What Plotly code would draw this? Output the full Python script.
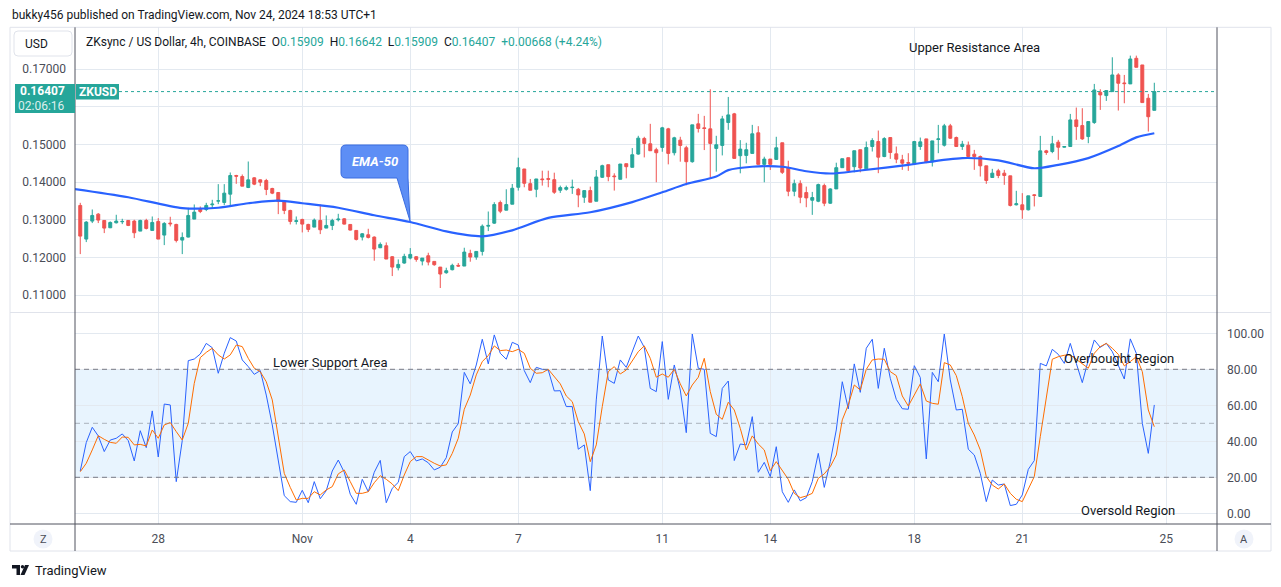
import pandas as pd
import plotly.graph_objects as go

W, H = 1281, 587

# ---------------- data ----------------
START = "2024-10-25 20:00"   # first 4h candle

OPEN = [0.13381, 0.12487, 0.12965, 0.13150, 0.12982, 0.12788, 0.12920, 0.12947, 0.12982, 0.12965,
        0.12699, 0.12982, 0.12717, 0.12956, 0.12593, 0.12912, 0.12876, 0.12460, 0.12540, 0.13018,
        0.13274, 0.13274, 0.13398, 0.13496, 0.13460, 0.13681, 0.14177, 0.14150, 0.13858, 0.14115,
        0.14062, 0.14044, 0.13832, 0.13726, 0.13487, 0.13248, 0.12956, 0.13009, 0.12876, 0.12805,
        0.12982, 0.12779, 0.12850, 0.13000, 0.13027, 0.12876, 0.12717, 0.12540, 0.12602, 0.12540,
        0.12257, 0.12310, 0.12018, 0.11726, 0.11850, 0.11982, 0.12018, 0.11903, 0.12044, 0.11894,
        0.11743, 0.11593, 0.11673, 0.11788, 0.11770, 0.12106, 0.12009, 0.12160, 0.12830, 0.12911,
        0.13458, 0.13255, 0.13414, 0.13864, 0.14350, 0.13961, 0.13811, 0.14085, 0.14094, 0.14067,
        0.13785, 0.13811, 0.13855, 0.13811, 0.13599, 0.13776, 0.13493, 0.14129, 0.14464, 0.14164,
        0.14076, 0.14491, 0.14394, 0.14747, 0.15162, 0.15020, 0.14862, 0.14923, 0.15417, 0.14782,
        0.15117, 0.14914, 0.14544, 0.15550, 0.15444, 0.15417, 0.14897, 0.14976, 0.15585, 0.15815,
        0.14703, 0.14711, 0.14764, 0.15312, 0.14473, 0.14614, 0.14605, 0.15047, 0.14376, 0.13758,
        0.13961, 0.13723, 0.13520, 0.13493, 0.13908, 0.13440, 0.13820, 0.14385, 0.14650, 0.14411,
        0.14862, 0.14354, 0.14947, 0.15080, 0.14681, 0.15186, 0.14752, 0.14593, 0.14522, 0.14487,
        0.14947, 0.15150, 0.14540, 0.15133, 0.14982, 0.15496, 0.15186, 0.14947, 0.14982, 0.14743,
        0.14681, 0.14434, 0.14124, 0.14301, 0.14239, 0.14168, 0.13398, 0.13398, 0.13265, 0.13664,
        0.13619, 0.14832, 0.14814, 0.15062, 0.14929, 0.14947, 0.15655, 0.15504, 0.15212, 0.15584,
        0.16389, 0.16301, 0.16407, 0.16850, 0.16637, 0.16611, 0.17292, 0.17115, 0.16230, 0.15909]

HIGH = [0.13451, 0.12965, 0.13274, 0.13177, 0.12982, 0.12956, 0.13133, 0.13027, 0.12982, 0.13000,
        0.13000, 0.13027, 0.13088, 0.13044, 0.12938, 0.13080, 0.12894, 0.12664, 0.13319, 0.13407,
        0.13354, 0.13451, 0.13531, 0.13947, 0.13947, 0.14257, 0.14195, 0.14204, 0.14549, 0.14133,
        0.14071, 0.14088, 0.13850, 0.13726, 0.13513, 0.13265, 0.13088, 0.13027, 0.12894, 0.13035,
        0.13407, 0.13115, 0.13027, 0.13159, 0.13044, 0.12876, 0.12717, 0.12646, 0.12761, 0.12558,
        0.12398, 0.12398, 0.12035, 0.11947, 0.12097, 0.12248, 0.12035, 0.11982, 0.12124, 0.11894,
        0.11743, 0.11726, 0.11832, 0.11850, 0.12257, 0.12204, 0.12168, 0.12876, 0.13220, 0.13467,
        0.13511, 0.13811, 0.13952, 0.14650, 0.14350, 0.14085, 0.14085, 0.14305, 0.14305, 0.14252,
        0.13908, 0.13908, 0.14067, 0.13846, 0.13776, 0.13882, 0.14323, 0.14464, 0.14464, 0.14235,
        0.14482, 0.14491, 0.14906, 0.15232, 0.15206, 0.15550, 0.14915, 0.15470, 0.15444, 0.15206,
        0.15206, 0.14967, 0.15523, 0.15815, 0.15762, 0.16468, 0.15232, 0.15762, 0.16265, 0.15841,
        0.15117, 0.15047, 0.15523, 0.15488, 0.14676, 0.14614, 0.15206, 0.15047, 0.14570, 0.14067,
        0.14049, 0.13882, 0.13741, 0.13961, 0.13961, 0.13838, 0.14517, 0.14623, 0.14650, 0.14835,
        0.14862, 0.15080, 0.15168, 0.15372, 0.15195, 0.15186, 0.14947, 0.14726, 0.14770, 0.15097,
        0.15186, 0.15150, 0.15097, 0.15522, 0.15549, 0.15549, 0.15212, 0.15097, 0.15080, 0.14858,
        0.14708, 0.14434, 0.14354, 0.14354, 0.14327, 0.14168, 0.13770, 0.13708, 0.13637, 0.13681,
        0.15230, 0.14858, 0.15230, 0.15124, 0.14960, 0.15814, 0.15983, 0.15965, 0.15611, 0.16611,
        0.16469, 0.16434, 0.17319, 0.16894, 0.16850, 0.17363, 0.17363, 0.17115, 0.16345, 0.16642]

LOW = [0.12088, 0.12407, 0.12912, 0.12912, 0.12646, 0.12779, 0.12903, 0.12885, 0.12832, 0.12513,
       0.12699, 0.12743, 0.12717, 0.12487, 0.12327, 0.12823, 0.12398, 0.12088, 0.12531, 0.13018,
       0.13177, 0.13230, 0.13292, 0.13416, 0.13389, 0.13372, 0.13956, 0.13894, 0.13841, 0.13920,
       0.13894, 0.13655, 0.13681, 0.13150, 0.13150, 0.12876, 0.12876, 0.12664, 0.12673, 0.12805,
       0.12619, 0.12779, 0.12726, 0.12956, 0.12876, 0.12717, 0.12451, 0.12451, 0.12504, 0.11912,
       0.12248, 0.11956, 0.11504, 0.11655, 0.11832, 0.11947, 0.11885, 0.11788, 0.11788, 0.11779,
       0.11186, 0.11566, 0.11655, 0.11752, 0.11770, 0.11885, 0.11938, 0.12050, 0.12700, 0.12893,
       0.13176, 0.13255, 0.13414, 0.13776, 0.13864, 0.13785, 0.13599, 0.13908, 0.13864, 0.13688,
       0.13714, 0.13776, 0.13688, 0.13334, 0.13449, 0.13467, 0.13493, 0.14111, 0.14023, 0.13776,
       0.14076, 0.14102, 0.14394, 0.14729, 0.14658, 0.14835, 0.13997, 0.14808, 0.14473, 0.14711,
       0.14544, 0.13917, 0.14517, 0.15320, 0.14853, 0.14102, 0.14279, 0.14711, 0.15391, 0.14632,
       0.14235, 0.14500, 0.14764, 0.14473, 0.13997, 0.14323, 0.14605, 0.14217, 0.13626, 0.13626,
       0.13440, 0.13334, 0.13131, 0.13467, 0.13361, 0.13423, 0.13820, 0.14385, 0.14305, 0.14261,
       0.14261, 0.14354, 0.14814, 0.14239, 0.14664, 0.14619, 0.14504, 0.14327, 0.14301, 0.14487,
       0.14858, 0.14504, 0.14416, 0.14770, 0.14947, 0.15150, 0.14947, 0.14858, 0.14664, 0.14327,
       0.14150, 0.13956, 0.14124, 0.14106, 0.13929, 0.13354, 0.13381, 0.13027, 0.13248, 0.13354,
       0.13619, 0.14726, 0.14770, 0.14593, 0.14920, 0.14947, 0.15124, 0.15124, 0.15035, 0.15549,
       0.15920, 0.16159, 0.16407, 0.15903, 0.16097, 0.16611, 0.17053, 0.16115, 0.15345, 0.15909]

CLOSE = [0.12566, 0.12938, 0.13115, 0.12991, 0.12779, 0.12929, 0.12965, 0.12956, 0.12850, 0.12655,
         0.12982, 0.12770, 0.12929, 0.12487, 0.12903, 0.12894, 0.12451, 0.12531, 0.13115, 0.13204,
         0.13221, 0.13381, 0.13416, 0.13504, 0.13708, 0.14177, 0.14159, 0.13894, 0.14062, 0.13947,
         0.14000, 0.13805, 0.13708, 0.13487, 0.13248, 0.12956, 0.12973, 0.12885, 0.12743, 0.12991,
         0.12735, 0.12850, 0.12982, 0.13018, 0.12885, 0.12726, 0.12478, 0.12628, 0.12531, 0.12221,
         0.12345, 0.11956, 0.11743, 0.11814, 0.12027, 0.12080, 0.11947, 0.11982, 0.11876, 0.11805,
         0.11558, 0.11646, 0.11788, 0.11770, 0.12142, 0.12009, 0.12159, 0.12830, 0.12850, 0.13405,
         0.13229, 0.13405, 0.13838, 0.14385, 0.13970, 0.13785, 0.14085, 0.14067, 0.14076, 0.13732,
         0.13855, 0.13855, 0.13864, 0.13661, 0.13776, 0.13467, 0.14138, 0.14438, 0.14147, 0.14147,
         0.14482, 0.14411, 0.14729, 0.15170, 0.15029, 0.14835, 0.14782, 0.15444, 0.14764, 0.15179,
         0.14976, 0.14544, 0.15523, 0.15426, 0.15426, 0.15029, 0.14994, 0.15682, 0.15788, 0.14632,
         0.14879, 0.14862, 0.15285, 0.14473, 0.14614, 0.14473, 0.14914, 0.14261, 0.13758, 0.13961,
         0.13599, 0.13582, 0.13591, 0.13935, 0.13440, 0.13820, 0.14385, 0.14623, 0.14305, 0.14835,
         0.14376, 0.14920, 0.15106, 0.14664, 0.15159, 0.14788, 0.14611, 0.14504, 0.14504, 0.15080,
         0.15071, 0.14540, 0.15097, 0.15150, 0.15496, 0.15168, 0.14947, 0.15009, 0.14681, 0.14681,
         0.14434, 0.14044, 0.14239, 0.14177, 0.14177, 0.13381, 0.13425, 0.13265, 0.13637, 0.13646,
         0.14832, 0.14788, 0.15018, 0.14929, 0.14947, 0.15655, 0.15478, 0.15150, 0.15611, 0.16451,
         0.16319, 0.16434, 0.16850, 0.16628, 0.16619, 0.17274, 0.17053, 0.16115, 0.15739, 0.16407]

STOCH_K = [23.5, 39.3, 47.8, 43.0, 34.3, 40.7, 41.7, 44.1, 40.4, 29.1,
           45.9, 36.5, 56.9, 31.3, 60.7, 60.2, 17.6, 40.4, 84.8, 85.7,
           88.5, 94.4, 92.0, 77.8, 88.9, 97.6, 95.7, 85.2, 81.5, 77.2,
           79.3, 65.7, 49.1, 29.6, 9.8, 6.5, 6.1, 12.8, 5.9, 17.6,
           8.1, 12.6, 23.5, 29.6, 22.8, 10.6, 5.0, 18.9, 12.0, 22.8,
           29.4, 5.9, 13.9, 17.2, 31.5, 34.3, 29.1, 30.2, 28.1, 24.1,
           25.6, 30.9, 45.2, 49.8, 78.3, 71.9, 82.4, 96.7, 83.0, 99.1,
           88.9, 85.6, 95.0, 93.5, 79.3, 72.6, 81.1, 80.0, 79.6, 68.0,
           68.1, 59.3, 59.3, 35.6, 38.0, 12.6, 63.0, 98.5, 74.1, 72.2,
           85.2, 81.1, 89.4, 98.5, 92.2, 69.4, 67.6, 95.4, 63.3, 82.4,
           68.5, 44.8, 99.6, 80.6, 80.0, 44.4, 42.6, 69.4, 73.5, 29.3,
           38.5, 38.0, 53.7, 22.8, 28.3, 20.4, 37.0, 12.0, 6.1, 13.0,
           6.9, 8.7, 17.6, 33.3, 14.4, 28.7, 46.3, 73.1, 58.0, 83.0,
           67.2, 91.7, 96.7, 69.4, 91.7, 75.0, 63.3, 58.1, 57.8, 82.0,
           75.4, 30.2, 78.3, 73.1, 99.6, 74.1, 57.4, 57.8, 35.6, 32.4,
           22.2, 6.5, 18.5, 15.7, 16.3, 4.3, 5.0, 10.2, 24.4, 29.3,
           83.3, 81.9, 91.1, 88.3, 83.3, 94.4, 83.3, 72.6, 85.2, 96.3,
           92.2, 94.4, 89.8, 81.9, 74.6, 96.9, 88.9, 50.0, 33.3, 60.2]

STOCH_D = [23.1, 27.8, 35.2, 43.1, 41.1, 39.4, 38.9, 42.4, 42.2, 38.0,
           38.3, 37.4, 46.3, 41.7, 49.1, 50.4, 45.4, 40.7, 50.0, 72.2,
           86.5, 89.4, 91.7, 88.0, 85.7, 88.0, 93.5, 92.6, 86.1, 80.6,
           78.7, 73.1, 63.0, 43.5, 22.2, 14.4, 7.4, 8.3, 8.3, 12.0,
           10.2, 13.0, 14.8, 21.9, 24.1, 17.6, 11.1, 11.1, 12.0, 17.0,
           20.9, 18.9, 16.3, 12.6, 21.3, 28.7, 31.5, 31.5, 29.6, 27.8,
           26.3, 26.9, 33.3, 41.7, 57.8, 65.7, 76.9, 84.3, 87.6, 93.0,
           90.4, 90.7, 89.8, 91.1, 88.9, 80.6, 77.8, 78.1, 80.0, 75.9,
           71.9, 65.2, 62.0, 50.9, 44.1, 28.7, 38.0, 59.3, 78.7, 81.5,
           77.4, 79.6, 84.8, 89.8, 93.0, 86.1, 75.6, 77.4, 75.6, 80.0,
           71.9, 65.2, 71.3, 75.6, 86.1, 67.6, 55.0, 52.2, 61.7, 57.4,
           47.2, 35.2, 43.0, 38.5, 35.2, 23.7, 28.7, 24.1, 18.9, 11.1,
           8.7, 9.6, 11.1, 19.4, 21.9, 25.9, 32.4, 51.9, 60.2, 71.3,
           68.5, 80.0, 85.2, 85.7, 85.6, 78.7, 76.5, 65.2, 59.6, 65.7,
           71.9, 62.4, 61.1, 60.6, 83.7, 82.4, 76.5, 64.8, 50.0, 43.5,
           35.2, 20.4, 15.7, 13.5, 16.3, 11.1, 7.8, 6.5, 13.0, 20.4,
           42.6, 64.8, 85.6, 87.0, 87.8, 88.0, 85.6, 83.0, 80.6, 88.9,
           92.6, 94.4, 91.7, 88.3, 81.9, 84.3, 87.0, 78.7, 57.4, 48.1]

# EMA-50 read at a set of candles (candle number, 1 = first candle)
EMA_IDX = [0, 9, 18, 24, 29, 34, 38, 44, 50, 56, 62, 68, 73, 79, 86, 93, 98, 102, 107,
           109, 113, 118, 122, 126, 131, 139, 148, 154, 160, 164, 169, 174, 177, 180]
EMA_VAL = [0.1382, 0.1360, 0.1331, 0.1332, 0.1344, 0.1351, 0.1344, 0.1332, 0.1312, 0.1294,
           0.1269, 0.1256, 0.1272, 0.1305, 0.1320, 0.1347, 0.1373, 0.1395, 0.1415, 0.1432,
           0.1441, 0.1441, 0.1429, 0.1423, 0.1431, 0.1446, 0.1464, 0.1458, 0.1437, 0.1446,
           0.1464, 0.1496, 0.1519, 0.1530]

TICK_DATES = ["2024-10-28", "2024-11-01", "2024-11-04", "2024-11-07", "2024-11-11",
              "2024-11-14", "2024-11-18", "2024-11-21", "2024-11-25"]
TICK_TEXT = ["28", "Nov", "4", "7", "11", "14", "18", "21", "25"]
PRICE_TICKS = [0.11, 0.12, 0.13, 0.14, 0.15, 0.16, 0.17]
OSC_TICKS = [0, 20, 40, 60, 80, 100]
OB, MID, OS = 80, 50, 20

# ---------------- styling ----------------
GREEN = "#26a69a"
RED = "#ef5350"
GRID = "#e3e9f0"
AXTXT = "#4a4d57"
TXT = "#131722"
FONT = "Roboto"

start = pd.Timestamp(START)
dates = pd.date_range(start, periods=len(CLOSE), freq="4h")
ema_dates = [start + pd.Timedelta(hours=4 * (i - 1)) for i in EMA_IDX]

X_RANGE = ["2024-10-25 16:30", "2024-11-26 09:48"]
PRICE_RANGE = [0.10549, 0.18116]
OSC_RANGE = [-5.94, 111.28]


def px(x):
    return x / W


def py(y):
    return 1 - y / H


XDOM = [px(75), px(1217)]
YDOM_PRICE = [py(312), py(27.3)]
YDOM_OSC = [py(524), py(313)]

fig = go.Figure()

fig.add_trace(go.Candlestick(
    x=dates, open=OPEN, high=HIGH, low=LOW, close=CLOSE,
    increasing=dict(line=dict(color=GREEN, width=1), fillcolor=GREEN),
    decreasing=dict(line=dict(color=RED, width=1), fillcolor=RED),
    whiskerwidth=0, xaxis="x", yaxis="y", showlegend=False, hoverinfo="skip"))

fig.add_trace(go.Scatter(
    x=ema_dates, y=EMA_VAL, mode="lines", line=dict(color="#2962ff", width=2.2, shape="spline", smoothing=0.8),
    xaxis="x", yaxis="y", showlegend=False, hoverinfo="skip"))

fig.add_trace(go.Scatter(
    x=dates, y=STOCH_K, mode="lines", line=dict(color="#2962ff", width=1),
    xaxis="x2", yaxis="y2", showlegend=False, hoverinfo="skip"))
fig.add_trace(go.Scatter(
    x=dates, y=STOCH_D, mode="lines", line=dict(color="#ff6d00", width=1),
    xaxis="x2", yaxis="y2", showlegend=False, hoverinfo="skip"))

axis_common = dict(showline=False, zeroline=False, ticks="", showgrid=True, gridcolor=GRID, gridwidth=1)

fig.update_layout(
    width=W, height=H, autosize=False, template="none",
    margin=dict(l=0, r=0, t=0, b=0, pad=0),
    paper_bgcolor="white", plot_bgcolor="white",
    showlegend=False, font=dict(family=FONT, size=12, color=AXTXT),
    xaxis=dict(domain=XDOM, range=X_RANGE, type="date", anchor="y", tickvals=TICK_DATES,
               showticklabels=False, rangeslider=dict(visible=False), **axis_common),
    xaxis2=dict(domain=XDOM, range=X_RANGE, type="date", anchor="y2", matches="x",
                tickvals=TICK_DATES, ticktext=TICK_TEXT, ticklabelstandoff=6,
                tickfont=dict(family=FONT, size=12, color=AXTXT), **axis_common),
    yaxis=dict(domain=YDOM_PRICE, range=PRICE_RANGE, anchor="x", side="left",
               tickvals=PRICE_TICKS,
               ticktext=["" if abs(v - 0.16) < 1e-9 else f"{v:.5f}" for v in PRICE_TICKS],
               ticklabelstandoff=8, tickfont=dict(family=FONT, size=12, color=AXTXT), **axis_common),
    yaxis2=dict(domain=YDOM_OSC, range=OSC_RANGE, anchor="x2", side="right",
                tickvals=OSC_TICKS, ticktext=[f"{v:.2f}" for v in OSC_TICKS],
                ticklabelstandoff=9, tickfont=dict(family=FONT, size=12, color=AXTXT), **axis_common),
)

shapes = []
# oscillator band and levels
shapes.append(dict(type="rect", xref="paper", yref="y2", x0=XDOM[0], x1=XDOM[1], y0=OS, y1=OB,
                   fillcolor="rgba(33,150,243,0.1)", line=dict(width=0), layer="below"))
for lvl, col in [(OB, "#787b86"), (MID, "rgba(120,123,134,0.55)"), (OS, "#787b86")]:
    shapes.append(dict(type="line", xref="paper", yref="y2", x0=XDOM[0], x1=XDOM[1], y0=lvl, y1=lvl,
                       line=dict(color=col, width=1, dash="5px,4px")))
# last price dotted line
shapes.append(dict(type="line", xref="paper", yref="y", x0=px(119), x1=XDOM[1], y0=CLOSE[-1], y1=CLOSE[-1],
                   line=dict(color=GREEN, width=1, dash="dot")))
# frame
LIGHT = "#e0e3eb"
DARK = "#50535e"
shapes.append(dict(type="rect", xref="paper", yref="paper", x0=px(10), x1=px(1271), y0=py(551), y1=py(27.3),
                   line=dict(color=LIGHT, width=1)))
shapes.append(dict(type="line", xref="paper", yref="paper", x0=px(10), x1=px(1271), y0=py(312.5), y1=py(312.5),
                   line=dict(color=LIGHT, width=1)))
shapes.append(dict(type="line", xref="paper", yref="paper", x0=px(10), x1=px(1271), y0=py(524), y1=py(524),
                   line=dict(color=DARK, width=1)))
for xx in (75, 1217):
    shapes.append(dict(type="line", xref="paper", yref="paper", x0=px(xx), x1=px(xx), y0=py(551), y1=py(27.3),
                       line=dict(color=DARK, width=1)))


def rounded_rect(x0, y0, x1, y1, r):
    return (f"M {px(x0 + r)} {py(y0)} L {px(x1 - r)} {py(y0)} Q {px(x1)} {py(y0)} {px(x1)} {py(y0 + r)} "
            f"L {px(x1)} {py(y1 - r)} Q {px(x1)} {py(y1)} {px(x1 - r)} {py(y1)} "
            f"L {px(x0 + r)} {py(y1)} Q {px(x0)} {py(y1)} {px(x0)} {py(y1 - r)} "
            f"L {px(x0)} {py(y0 + r)} Q {px(x0)} {py(y0)} {px(x0 + r)} {py(y0)} Z")


# USD box
shapes.append(dict(type="path", xref="paper", yref="paper", path=rounded_rect(14, 31, 72, 56, 4),
                   fillcolor="white", line=dict(color=LIGHT, width=1)))
# price tag + symbol tag
shapes.append(dict(type="rect", xref="paper", yref="paper", x0=px(15), x1=px(75), y0=py(113), y1=py(84),
                   fillcolor=GREEN, line=dict(width=0)))
shapes.append(dict(type="rect", xref="paper", yref="paper", x0=px(76), x1=px(119), y0=py(99.5), y1=py(84),
                   fillcolor=GREEN, line=dict(width=0)))
# EMA-50 callout
callout = (f"M {px(346)} {py(145)} L {px(403)} {py(145)} Q {px(408)} {py(145)} {px(408)} {py(150)} "
           f"L {px(408)} {py(178)} L {px(410)} {py(221)} L {px(397)} {py(178)} "
           f"L {px(346)} {py(178)} Q {px(341)} {py(178)} {px(341)} {py(173)} "
           f"L {px(341)} {py(150)} Q {px(341)} {py(145)} {px(346)} {py(145)} Z")
shapes.append(dict(type="path", xref="paper", yref="paper", path=callout,
                   fillcolor="#5d8ef5", line=dict(color="#3a6ce0", width=1)))
# Z / A buttons
for cx in (43, 1244):
    shapes.append(dict(type="circle", xref="paper", yref="paper", x0=px(cx - 9.5), x1=px(cx + 9.5),
                       y0=py(539 + 9.5), y1=py(539 - 9.5), fillcolor="#f0f3fa", line=dict(width=0)))
# TradingView logo (simplified)
shapes.append(dict(type="rect", xref="paper", yref="paper", x0=px(12), x1=px(20), y0=py(568.5), y1=py(565),
                   fillcolor=TXT, line=dict(width=0)))
shapes.append(dict(type="rect", xref="paper", yref="paper", x0=px(16.5), x1=px(20), y0=py(575), y1=py(565),
                   fillcolor=TXT, line=dict(width=0)))
shapes.append(dict(type="circle", xref="paper", yref="paper", x0=px(20.8), x1=px(24.2), y0=py(568.5), y1=py(565),
                   fillcolor=TXT, line=dict(width=0)))
shapes.append(dict(type="path", xref="paper", yref="paper",
                   path=f"M {px(25)} {py(565)} L {px(29)} {py(565)} L {px(24.5)} {py(575)} L {px(20.5)} {py(575)} Z",
                   fillcolor=TXT, line=dict(width=0)))
fig.update_layout(shapes=shapes)

annotations = []


def ann(text, x, y, size=12, color=TXT, xanchor="center", **kw):
    annotations.append(dict(text=text, x=px(x), y=py(y), xref="paper", yref="paper", showarrow=False,
                            xanchor=xanchor, yanchor="middle", font=dict(family=FONT, size=size, color=color), **kw))


ann("bukky456 published on TradingView.com, Nov 24, 2024 18:53 UTC+1", 10, 15, xanchor="left")
g = lambda s: f'<span style="color:{GREEN}">{s}</span>'
chg = CLOSE[-1] - CLOSE[-2]
header = ("ZKsync / US Dollar, 4h, COINBASE\u00a0\u00a0"
          f"O{g(f'{OPEN[-1]:.5f}')}\u00a0\u00a0H{g(f'{HIGH[-1]:.5f}')}\u00a0\u00a0"
          f"L{g(f'{LOW[-1]:.5f}')}\u00a0\u00a0C{g(f'{CLOSE[-1]:.5f}')}\u00a0\u00a0"
          + g(f"+{chg:.5f} (+{chg / CLOSE[-2] * 100:.2f}%)"))
ann(header, 84, 42, xanchor="left")
ann("USD", 23, 44, xanchor="left")
ann(f"<b>{CLOSE[-1]:.5f}</b>", 67, 91.5, color="white", xanchor="right")
ann("02:06:16", 67, 106, color="rgba(255,255,255,0.85)", xanchor="right")
ann("<b>ZKUSD</b>", 97.5, 92, color="white")
ann("Upper Resistance Area", 974, 48, size=13)
ann("<b><i>EMA-50</i></b>", 374.5, 161, size=13, color="white")
ann("Lower Support Area", 330, 362, size=13)
ann("Overbought Region", 1119, 358.5, size=13)
ann("Oversold Region", 1128, 510, size=13)
ann("Z", 43, 539.5, size=11, color=AXTXT)
ann("A", 1244, 539.5, size=11, color=AXTXT)
ann("TradingView", 33, 570, size=13, xanchor="left")
fig.update_layout(annotations=annotations)

fig.write_html("out.html")
